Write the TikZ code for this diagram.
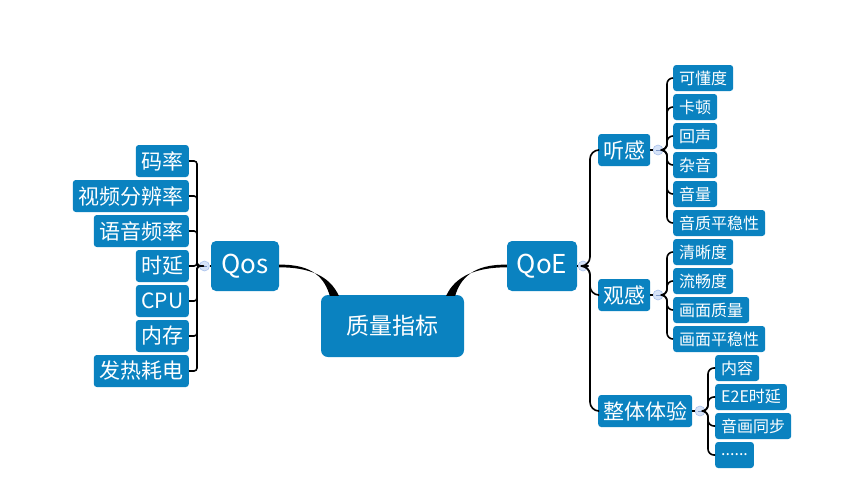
\documentclass[tikz,border=0pt]{standalone}
\usepackage{fontspec}
\setmainfont{Noto Sans CJK SC}
\usetikzlibrary{calc}
\definecolor{boxblue}{HTML}{0A82C0}
\definecolor{togfill}{HTML}{D6E3F8}
\definecolor{togdraw}{HTML}{A9C1EC}
\definecolor{togminus}{HTML}{7E98C8}
\tikzset{
  box/.style={fill=boxblue, text=white, inner ysep=0pt, rounded corners=3pt},
  rootbox/.style={box, minimum width=143pt, minimum height=62pt, rounded corners=7pt,
    font=\fontsize{23}{26}\selectfont},
  mainbox/.style={box, minimum width=68pt, minimum height=50pt, rounded corners=5pt,
    font=\fontsize{26}{30}\selectfont},
  midbox/.style={box, inner xsep=5pt, minimum height=32pt,
    font=\fontsize{21}{24}\selectfont},
  leafL/.style={box, inner xsep=5.5pt, minimum height=32pt, anchor=east,
    font=\fontsize{21}{24}\selectfont},
  leafR/.style={box, inner xsep=6pt, minimum height=26pt, anchor=west,
    font=\fontsize{16}{18}\selectfont},
  toggle/.style={circle, minimum size=10pt, inner sep=0pt, fill=togfill, draw=togdraw, line width=0.6pt,
    path picture={\draw[togminus, line width=0.8pt]
      ([xshift=2.5pt]path picture bounding box.west) -- ([xshift=-2.5pt]path picture bounding box.east);}},
  branch/.style={line width=1.6pt, black},
}
\begin{document}
\begin{tikzpicture}[x=1pt,y=-1pt]
\useasboundingbox (0,0) rectangle (865,496);
\fill[white] (0,0) rectangle (865,496);

% root and main branches
\node[rootbox] (root) at (392.5,326) {质量指标};
\node[mainbox] (qos) at (245,266) {Qos};
\node[mainbox, minimum width=70pt] (qoe) at (542,266) {QoE};

% tapered connectors
\fill[black] ($(qos.east)+(0,-1.3)$) .. controls ($(qos.east)+(34,-2)$) and ($(root.north west)+(4,-16)$) .. ($(root.north west)+(9,1)$)
  -- ($(root.north west)+(18,1)$) .. controls ($(root.north west)+(9,-19)$) and ($(qos.east)+(30,1.3)$) .. ($(qos.east)+(0,1.3)$) -- cycle;
\fill[black] ($(qoe.west)+(0,-1.3)$) .. controls ($(qoe.west)+(-34,-2)$) and ($(root.north east)+(-4,-16)$) .. ($(root.north east)+(-9,1)$)
  -- ($(root.north east)+(-18,1)$) .. controls ($(root.north east)+(-9,-19)$) and ($(qoe.west)+(-30,1.3)$) .. ($(qoe.west)+(0,1.3)$) -- cycle;

% Qos leaves
\node[leafL] (l1) at (189,161) {码率};
\node[leafL] (l2) at (189,196) {视频分辨率};
\node[leafL] (l3) at (189,231) {语音频率};
\node[leafL] (l4) at (189,266) {时延};
\node[leafL] (l5) at (189,301) {CPU};
\node[leafL] (l6) at (189,336) {内存};
\node[leafL] (l7) at (189,371) {发热耗电};
\node[toggle] (qc) at (204.5,266) {};
\draw[branch] (qos.west) -- (qc.east);
\foreach \n in {l1,l2,l3,l4,l5,l6,l7}{
  \draw[branch, rounded corners=3pt] (qc.west) -| ($(\n.east)+(8,0)$) -- (\n.east);
}

% QoE mid nodes
\node[midbox, anchor=west] (tg) at (598,150) {听感};
\node[midbox, anchor=west] (gg) at (598,295) {观感};
\node[midbox, anchor=west] (zt) at (598,411) {整体体验};
\node[toggle] (ec) at (583,266) {};
\draw[branch] (qoe.east) -- (ec.west);
\foreach \n in {tg,gg,zt}{
  \draw[branch, rounded corners=9pt] (ec.east) -| ($(\n.west)+(-8,0)$) -- (\n.west);
}

% 听感 leaves
\node[leafR] (a1) at (673,78) {可懂度};
\node[leafR] (a2) at (673,107) {卡顿};
\node[leafR] (a3) at (673,136) {回声};
\node[leafR] (a4) at (673,165) {杂音};
\node[leafR] (a5) at (673,194) {音量};
\node[leafR] (a6) at (673,223) {音质平稳性};
\node[toggle] (tc) at (658,150) {};
\draw[branch] (tg.east) -- (tc.west);
\foreach \n in {a1,a2,a3,a4,a5,a6}{
  \draw[branch, rounded corners=6pt] (tc.east) -| ($(\n.west)+(-6,0)$) -- (\n.west);
}

% 观感 leaves
\node[leafR] (b1) at (673,252) {清晰度};
\node[leafR] (b2) at (673,281) {流畅度};
\node[leafR] (b3) at (673,310) {画面质量};
\node[leafR] (b4) at (673,339) {画面平稳性};
\node[toggle] (gc) at (658,295) {};
\draw[branch] (gg.east) -- (gc.west);
\foreach \n in {b1,b2,b3,b4}{
  \draw[branch, rounded corners=6pt] (gc.east) -| ($(\n.west)+(-6,0)$) -- (\n.west);
}

% 整体体验 leaves
\node[leafR] (c1) at (715,368) {内容};
\node[leafR] (c2) at (715,397) {E2E时延};
\node[leafR] (c3) at (715,426) {音画同步};
\node[leafR, minimum width=38pt, align=left] (c4) at (715,455) {......};
\node[toggle] (zc) at (700,411) {};
\draw[branch] (zt.east) -- (zc.west);
\foreach \n in {c1,c2,c3,c4}{
  \draw[branch, rounded corners=6pt] (zc.east) -| ($(\n.west)+(-7,0)$) -- (\n.west);
}
\end{tikzpicture}
\end{document}
